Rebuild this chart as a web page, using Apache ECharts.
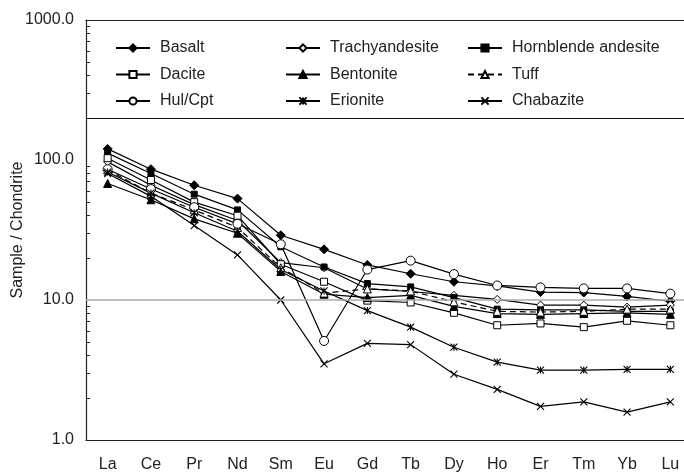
<!DOCTYPE html>
<html>
<head>
<meta charset="utf-8">
<script src="https://cdn.jsdelivr.net/npm/echarts@6/dist/echarts.min.js"></script>
<style>html,body{margin:0;padding:0;background:#fff}#c{width:684px;height:472px}</style>
</head>
<body>
<div id="c"></div>
<script>
const categories = ['La','Ce','Pr','Nd','Sm','Eu','Gd','Tb','Dy','Ho','Er','Tm','Yb','Lu'];
const yTicks = [1, 10, 100, 1000];
const minorTicks = [2,3,4,5,6,7,8,9,20,30,40,50,60,70,80,90,200,300,400,500,600,700,800,900];
const basalt = [120, 86, 66, 53, 29, 23, 17.8, 15.4, 13.5, 12.6, 11.4, 11.3, 10.6, 9.8];
const trachyandesite = [97, 66, 48, 37, 18.5, 17, 12, 11.5, 10.8, 10.1, 9.2, 9.2, 8.9, 9.2];
const hornblendeAndesite = [112, 80, 57, 44, 24, 17.2, 13.1, 12.4, 10.4, 8.6, 8.5, 8.5, 8.3, 8.3];
const dacite = [103, 72, 50, 40, 18, 13.5, 9.9, 9.6, 8.1, 6.6, 6.8, 6.4, 7.1, 6.6];
const bentonite = [68, 52, 38, 30, 16, 11, 10.4, 10.8, 9.0, 8.0, 7.9, 8.0, 8.1, 7.9];
const tuff = [85, 58, 44, 33, 17, 11.2, 12, 11.6, 9.7, 8.3, 8.2, 8.3, 8.6, 8.6];
const hulCpt = [86, 62, 46, 35, 25, 5.1, 16.5, 19.1, 15.3, 12.7, 12.3, 12.1, 12.1, 11.1];
const erionite = [82, 58, 42, 31, 16.5, 11.6, 8.4, 6.4, 4.6, 3.6, 3.16, 3.16, 3.2, 3.2];
const chabazite = [80, 55, 34, 21, 10, 3.5, 4.9, 4.8, 2.95, 2.3, 1.74, 1.87, 1.58, 1.87];
const referenceLine = 10;
const legendBoxLine = 200;

const FONT = 'Liberation Sans, Arial, sans-serif';
const filled = {color:'#000', borderColor:'#000', borderWidth:1};
const open = {color:'#fff', borderColor:'#000', borderWidth:1};
const stroke = {color:'none', borderColor:'#000', borderWidth:1.1};
const ASTER = 'path://M0,0L10,10M10,0L0,10M5,0L5,10';
const CROSS = 'path://M0,0L10,10M10,0L0,10';

function mk(name, data, symbol, size, style, dashed) {
  return {
    name, type:'line', data, symbol, symbolSize:size, symbolKeepAspect:true,
    itemStyle: style,
    lineStyle: {color:'#000', width:1.2, type: dashed ? [6,4] : 'solid'},
    emphasis: {disabled:true}
  };
}
const series = [
  mk('Basalt', basalt, 'diamond', 9, filled),
  mk('Trachyandesite', trachyandesite, 'diamond', 8, open),
  mk('Hornblende andesite', hornblendeAndesite, 'rect', 6, filled),
  mk('Dacite', dacite, 'rect', 7, open),
  mk('Bentonite', bentonite, 'triangle', 8, filled),
  mk('Tuff', tuff, 'triangle', 8, open, true),
  mk('Hul/Cpt', hulCpt, 'circle', 9, open),
  mk('Erionite', erionite, ASTER, 7, stroke),
  mk('Chabazite', chabazite, CROSS, 7, stroke)
];
series[0].markLine = {
  silent:true, symbol:'none', animation:false, label:{show:false},
  lineStyle:{type:'solid'},
  data:[
    {yAxis:referenceLine, lineStyle:{color:'#aaa', width:1.5, type:'solid'}},
    {yAxis:legendBoxLine, lineStyle:{color:'#111', width:1.2, type:'solid'}}
  ]
};

function legendCol(names, left) {
  return {
    orient:'vertical', left, top:40, padding:0, data:names,
    itemWidth:34, itemHeight:9, itemGap:10.5,
    textStyle:{fontFamily:FONT, fontSize:16, color:'#222', lineHeight:16, padding:[0,0,0,5]},
    selectedMode:false
  };
}

const chart = echarts.init(document.getElementById('c'), null, {renderer:'canvas'});
chart.setOption({
  animation:false,
  backgroundColor:'#fff',
  grid:{left:86, top:20, width:606, height:420, outerBoundsMode:'none', containLabel:false},
  legend:[
    legendCol(['Basalt','Dacite','Hul/Cpt'], 115),
    legendCol(['Trachyandesite','Bentonite','Erionite'], 285),
    legendCol(['Hornblende andesite','Tuff','Chabazite'], 467)
  ],
  xAxis:[
    {type:'category', data:categories, position:'bottom', boundaryGap:true,
     axisLine:{onZero:false, lineStyle:{color:'#222', width:1.2}},
     axisTick:{inside:true, length:6, lineStyle:{color:'#222'}},
     axisLabel:{fontFamily:FONT, fontSize:16, color:'#222', margin:17}},
    {type:'category', data:categories, position:'bottom', boundaryGap:true,
     axisLine:{show:false},
     axisTick:{inside:true, length:4, alignWithLabel:true, lineStyle:{color:'#222'}},
     axisLabel:{show:false}},
    {type:'category', data:categories, position:'top', boundaryGap:true,
     axisLine:{show:true, onZero:false, lineStyle:{color:'#222', width:1.2}},
     axisTick:{show:false}, axisLabel:{show:false}}
  ],
  yAxis:[
    {type:'log', logBase:10, min:yTicks[0], max:yTicks[yTicks.length-1], position:'left',
     name:'Sample / Chondrite', nameLocation:'middle', nameGap:60, nameMoveOverlap:false,
     nameTextStyle:{fontFamily:FONT, fontSize:16, color:'#222'},
     axisLine:{show:true, lineStyle:{color:'#222', width:1.2}},
     axisTick:{inside:true, length:5, lineStyle:{color:'#222'}},
     axisLabel:{fontFamily:FONT, fontSize:16, color:'#222', margin:12, formatter:v=>Number(v).toFixed(1)},
     splitLine:{show:false}},
    {type:'value', min:0, max:3, position:'left',
     axisLine:{show:false},
     axisTick:{show:true, inside:true, length:4, customValues:minorTicks.map(v=>Math.log10(v)), lineStyle:{color:'#222', width:1}},
     axisLabel:{show:false}, splitLine:{show:false}}
  ],
  series
});
</script>
</body>
</html>
